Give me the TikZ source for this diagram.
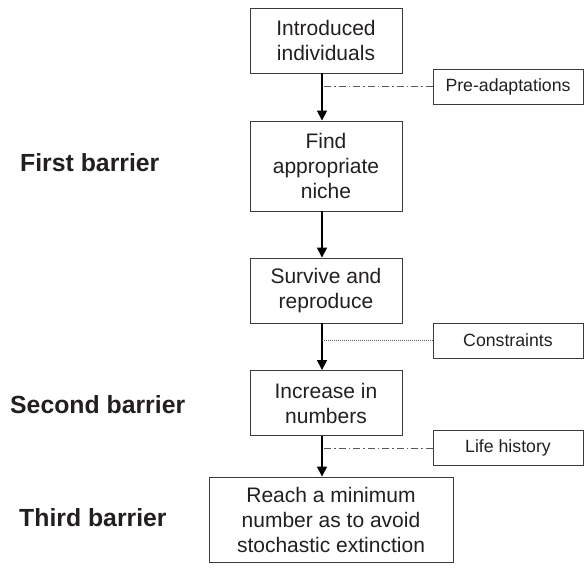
\documentclass[tikz,border=0pt]{standalone}
\usepackage{fontspec}
\setmainfont{Liberation Sans}
\usetikzlibrary{arrows.meta,positioning}
\definecolor{boxline}{RGB}{60,60,60}
\definecolor{textdark}{RGB}{35,31,32}
\definecolor{linkgray}{RGB}{90,90,90}
\tikzset{
  stagebox/.style={draw=boxline,line width=0.9pt,minimum width=152pt,minimum height=65pt,
    align=center,inner sep=2pt,text=textdark,font=\fontsize{21}{25}\selectfont},
  factorbox/.style={draw=boxline,line width=0.9pt,minimum width=150pt,minimum height=35pt,
    inner sep=2pt,text=textdark,font=\fontsize{17.7}{21}\selectfont},
  barrier/.style={anchor=west,inner sep=0pt,text=textdark,font=\fontsize{24.8}{29}\selectfont\bfseries},
  flow/.style={-{Triangle[length=10pt,width=10pt]},line width=1.6pt,draw=black},
  dashdotlink/.style={draw=linkgray,line width=0.8pt,dash pattern=on 7pt off 3pt on 1.5pt off 3pt},
  dotlink/.style={draw=linkgray,line width=0.8pt,dash pattern=on 1pt off 1pt}
}
\begin{document}
\begin{tikzpicture}[x=1pt,y=-1pt]
  \useasboundingbox (0,0) rectangle (584,569);
  % stages
  \node[stagebox] (intro) at (326,40.5) {Introduced\\individuals};
  \node[stagebox,minimum height=90pt] (niche) at (326,166) {Find\\appropriate\\niche};
  \node[stagebox] (surv) at (326,290.5) {Survive and\\reproduce};
  \node[stagebox] (incr) at (326,403) {Increase in\\numbers};
  \node[stagebox,minimum width=244pt,minimum height=85pt] (reach) at (331,519.5) {Reach a minimum\\number as to avoid\\stochastic extinction};
  \coordinate (spine) at (322,0);
  \draw[flow] (intro.south -| spine) -- (niche.north -| spine);
  \draw[flow] (niche.south -| spine) -- (surv.north -| spine);
  \draw[flow] (surv.south -| spine) -- (incr.north -| spine);
  \draw[flow] (incr.south -| spine) -- (reach.north -| spine);
  % factors
  \node[factorbox] (preadapt) at (508,86.5) {Pre-adaptations};
  \node[factorbox] (constr) at (508,340.5) {Constraints};
  \node[factorbox] (lifehist) at (508,448) {Life history};
  \draw[dashdotlink] (preadapt.west) -- (preadapt.west -| spine);
  \draw[dotlink] (constr.west) -- (constr.west -| spine);
  \draw[dashdotlink] (lifehist.west) -- (lifehist.west -| spine);
  % barriers
  \node[barrier] (first) at (20,163) {First barrier};
  \node[barrier] (second) at (10,405) {Second barrier};
  \node[barrier] (third) at (19,518) {Third barrier};
\end{tikzpicture}
\end{document}
